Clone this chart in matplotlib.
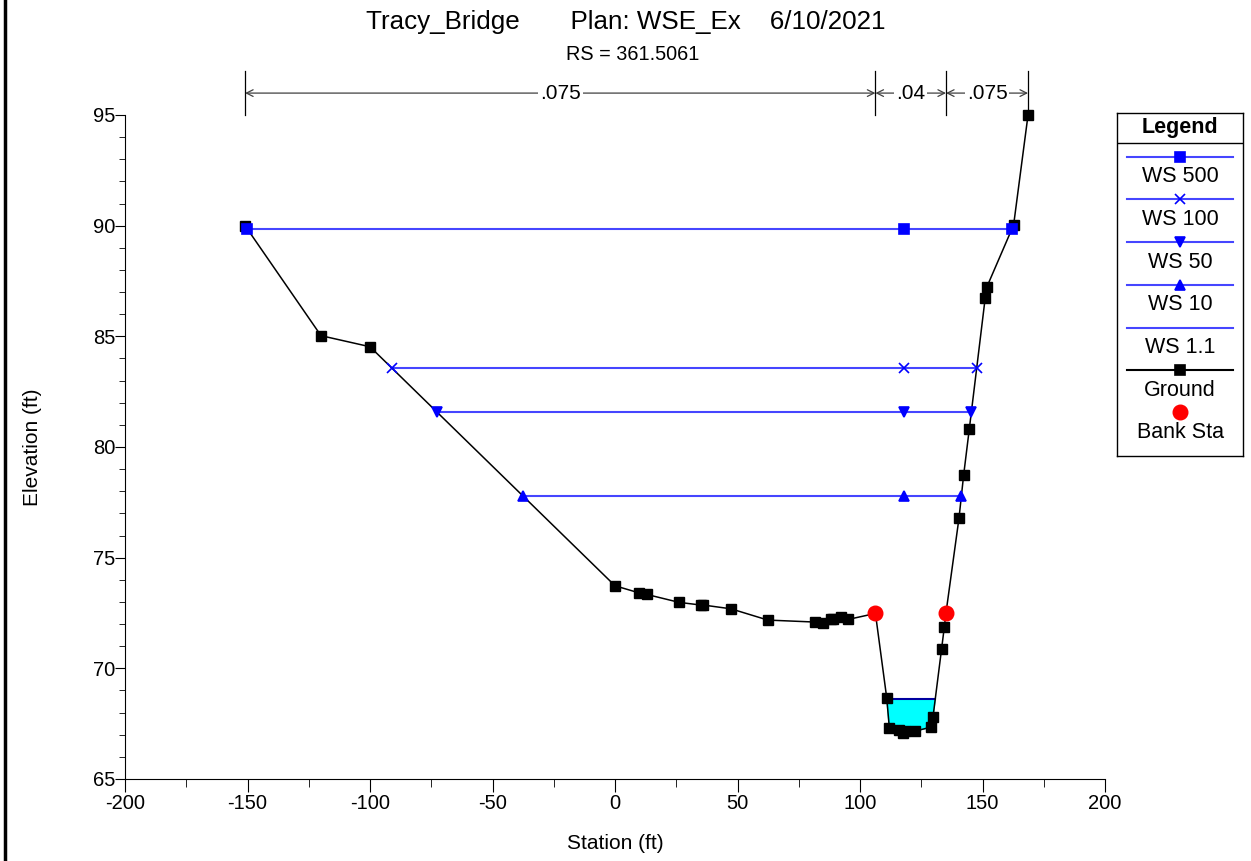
import matplotlib
matplotlib.use("Agg")
import matplotlib.pyplot as plt
from matplotlib.lines import Line2D
import numpy as np

plt.rcParams['font.family'] = ['Liberation Sans', 'DejaVu Sans']
plt.rcParams['axes.unicode_minus'] = False

# ground profile (station, elevation)
ground_sta = [-151.0, -120.0, -100.0, 0.0, 9.8, 12.9, 26.2, 35.0, 36.0, 47.3, 62.4,
              81.8, 85.0, 88.0, 89.1, 92.1, 95.2, 106.3, 110.9, 112.0, 115.8, 117.7,
              118.5, 122.3, 128.9, 129.8, 133.3, 134.4, 135.1, 140.4, 142.3, 144.6,
              151.1, 151.7, 162.7, 168.6]
ground_elev = [90.0, 85.03, 84.53, 73.73, 73.41, 73.34, 72.98, 72.86, 72.86, 72.69, 72.18,
               72.09, 72.03, 72.21, 72.21, 72.30, 72.21, 72.48, 68.67, 67.29, 67.21, 67.09,
               67.18, 67.16, 67.34, 67.81, 70.88, 71.85, 72.51, 76.78, 78.73, 80.80,
               86.73, 87.21, 90.03, 95.01]

bank_sta = [106.3, 135.1]
bank_elev = [72.48, 72.51]

# water surface profiles
ws_names = ['WS 500', 'WS 100', 'WS 50', 'WS 10', 'WS 1.1']
ws_elev = [89.85, 83.58, 81.57, 77.78, 68.6]
ws_marks = ['s', 'x', 'v', '^', None]
ws_mid_sta = 118.0

# manning's n regions
mann_n = ['.075', '.04', '.075']
n_breaks = [-151.0, 106.3, 135.1, 168.6]


def crossings(level):
    pts = []
    for i in range(len(ground_sta) - 1):
        x0, x1 = ground_sta[i], ground_sta[i + 1]
        y0, y1 = ground_elev[i], ground_elev[i + 1]
        if (y0 - level) * (y1 - level) <= 0 and y0 != y1:
            pts.append(x0 + (level - y0) * (x1 - x0) / (y1 - y0))
    return pts[0], pts[-1]


fig = plt.figure(figsize=(12.51, 8.61), dpi=100)
ax = fig.add_axes([125 / 1251, 1 - 779 / 861, 980 / 1251, 664 / 861])

ws_line = '#4646ff'
for name, z, m in zip(ws_names, ws_elev, ws_marks):
    xl, xr = crossings(z)
    if m is None:
        # lowest profile: fill the wetted channel
        gx = np.array(ground_sta)
        gy = np.array(ground_elev)
        keep = (gx > xl) & (gx < xr)
        px = np.concatenate([[xl], gx[keep], [xr]])
        py = np.concatenate([[z], gy[keep], [z]])
        ax.fill(px, py, color='#00ffff', zorder=2)
        ax.plot([xl, xr], [z, z], color='#0000a0', lw=1.5, zorder=3)
        continue
    ax.plot([xl, xr], [z, z], color=ws_line, lw=1.5, zorder=2)
    ax.plot([xl, ws_mid_sta, xr], [z, z, z], ls='none', marker=m, color='blue',
            ms=7, mew=1.2, zorder=5)

ax.plot(ground_sta, ground_elev, color='black', lw=1.1, marker='s', ms=6.5, zorder=4,
        clip_on=False)
ax.plot(bank_sta, bank_elev, ls='none', marker='o', color='red', ms=10.5, zorder=6)

ax.set_xlim(-200, 200)
ax.set_ylim(65, 95)
ax.set_xticks(np.arange(-200, 201, 50))
ax.set_xticks(np.arange(-175, 200, 50), minor=True)
ax.set_yticks(np.arange(65, 96, 5))
ax.set_yticks(np.arange(65, 96, 1), minor=True)
ax.tick_params(axis='x', which='major', length=9, labelsize=14.5, pad=2)
ax.tick_params(axis='x', which='minor', length=5.5)
ax.tick_params(axis='y', which='major', length=7, labelsize=14.5, pad=0)
ax.tick_params(axis='y', which='minor', length=4.5)
ax.spines['top'].set_visible(False)
ax.spines['right'].set_visible(False)
ax.set_xlabel('Station (ft)', fontsize=15)
ax.set_ylabel('Elevation (ft)', fontsize=15)
ax.xaxis.set_label_coords(0.5, -0.083)
ax.yaxis.set_label_coords(-0.085, 0.5)

# roughness dimension lines above the plot
trans = ax.get_xaxis_transform()
for xb in n_breaks:
    ax.plot([xb, xb], [1.0, 1.066], transform=trans, color='black', lw=0.9, clip_on=False)
for i, lab in enumerate(mann_n):
    x0, x1 = n_breaks[i], n_breaks[i + 1]
    ax.annotate('', xy=(x0, 1.033), xytext=(x1, 1.033), xycoords=trans, textcoords=trans,
                arrowprops=dict(arrowstyle='<->', color='0.25', lw=0.9,
                                shrinkA=0, shrinkB=0, mutation_scale=12),
                annotation_clip=False)
    ax.text((x0 + x1) / 2, 1.033, lab, transform=trans, ha='center', va='center',
            fontsize=15, bbox=dict(facecolor='white', edgecolor='none', pad=1.5))

fig.text(626 / 1251, 1 - 22 / 861, 'Tracy_Bridge       Plan: WSE_Ex    6/10/2021',
         ha='center', va='center', fontsize=18.7)
fig.text(633 / 1251, 1 - 54 / 861, 'RS = 361.5061', ha='center', va='center', fontsize=14.3)

# legend box
lax = fig.add_axes([1117 / 1251, 1 - 456 / 861, 126 / 1251, 343 / 861])
lax.set_xlim(1117, 1243)
lax.set_ylim(456, 113)
lax.set_xticks([])
lax.set_yticks([])
for s in lax.spines.values():
    s.set_linewidth(1.0)
lax.text(1180, 127, 'Legend', ha='center', va='center', fontsize=15.5, fontweight='bold')
lax.plot([1117, 1243], [143.3, 143.3], color='black', lw=1.0)
entries = [(n, ws_line, m) for n, m in zip(ws_names, ws_marks)]
entries.append(('Ground', 'black', 's'))
for k, (n, c, m) in enumerate(entries):
    yl = 156.7 + 42.7 * k
    lax.plot([1127, 1233], [yl, yl], color=c, lw=1.5)
    if m is not None:
        lax.plot([1180], [yl], marker=m, color='blue' if c != 'black' else 'black',
                 ms=6.5, mew=1.2)
    lax.text(1180, yl + 20, n, ha='center', va='center', fontsize=15.5)
lax.plot([1180], [412.3], marker='o', color='red', ms=10.5)
lax.text(1180, 432.5, 'Bank Sta', ha='center', va='center', fontsize=15.5)

# left frame edge
fig.add_artist(Line2D([5 / 1251, 5 / 1251], [0, 1], transform=fig.transFigure,
                      color='black', lw=2.5))

fig.savefig('out.png', dpi=100)
